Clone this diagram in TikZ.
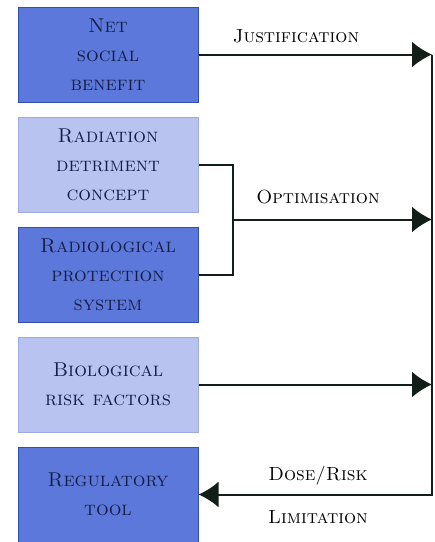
\documentclass[tikz,border=0pt]{standalone}
\usepackage{tikz}
\usetikzlibrary{arrows.meta}
\usetikzlibrary{positioning}
\usetikzlibrary{calc}

\definecolor{darkbox}{RGB}{92,120,218}
\definecolor{darkedge}{RGB}{50,78,178}
\definecolor{lightbox}{RGB}{184,195,240}
\definecolor{lightedge}{RGB}{155,170,228}
\definecolor{navytext}{RGB}{22,30,70}
\definecolor{wire}{RGB}{18,30,24}

\begin{document}
\begin{tikzpicture}[x=1pt, y=1pt,
    node distance = 14pt,
    >={Latex[length=20pt,width=26pt]}]
    \tikzstyle{every node}=[font=\fontsize{20}{29}\selectfont\scshape, text=navytext]
    \tikzstyle{box}=[draw, line width=1pt, minimum width=180pt, minimum height=95pt, align=center, inner sep=0pt]
    \tikzstyle{darkcell}=[box, fill=darkbox, draw=darkedge]
    \tikzstyle{lightcell}=[box, fill=lightbox, draw=lightedge]
    \tikzstyle{wireline}=[draw=wire, line width=2pt]
    \tikzstyle{tag}=[text=black, font=\fontsize{19}{22}\selectfont\scshape]
    \useasboundingbox (0,0) rectangle (435,-542);
    % the five boxes
    \node[darkcell] (net) at (108,-54.5) {Net\\social\\benefit};
    \node[lightcell] (det) [below=of net] {Radiation\\detriment\\concept};
    \node[darkcell] (prot) [below=of det] {Radiological\\protection\\system};
    \node[lightcell] (risk) [below=of prot] {Biological\\risk factors};
    \node[darkcell] (tool) [below=of risk] {Regulatory\\tool};
    % rail and bracket
    \coordinate (rail) at (432,0);
    \coordinate (join) at ($(det.east)!0.5!(prot.east) + (34,0)$);
    \path[wireline,->] (net.east) -- (net.east -| rail);
    \path[wireline] (det.east) -| (join |- prot.east) -- (prot.east);
    \path[wireline,->] (join) -- (join -| rail);
    \path[wireline,->] (risk.east) -- (risk.east -| rail);
    \path[wireline,->] (net.east -| rail) -- (tool.east -| rail) -- (tool.east);
    % labels
    \node[tag] (just) at (296,-36) {Justification};
    \node[tag] (opt) at (318,-197) {Optimisation};
    \node[tag] (dose) at (318,-476) {Dose/Risk};
    \node[tag] (lim) at (318,-517) {Limitation};
\end{tikzpicture}
\end{document}
